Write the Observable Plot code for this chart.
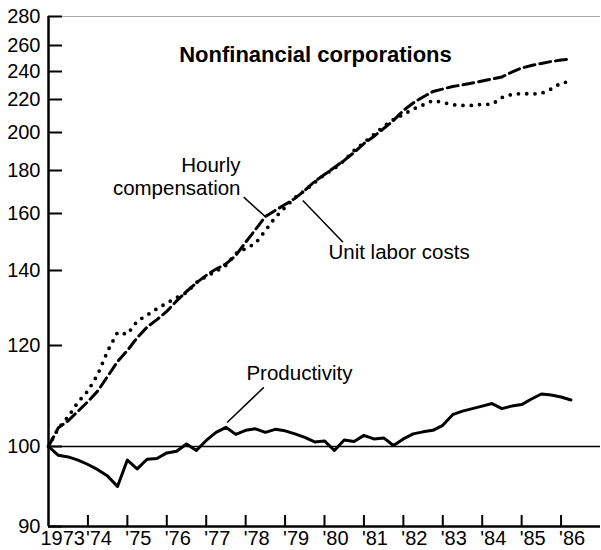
<!DOCTYPE html>
<html>
<head>
<meta charset="utf-8">
<script src="https://cdn.jsdelivr.net/npm/d3@7"></script>
<script src="https://cdn.jsdelivr.net/npm/@observablehq/plot@0.6"></script>
<style>
  html, body { margin: 0; padding: 0; background: #fff; }
</style>
</head>
<body>
<div id="chart"></div>
<script>
// ---- Data (quarterly, 1973 Q1 = 100) ----
const startYear = 1973;

const hourlyCompensation = [100, 103.7, 105.1, 107.0, 108.9, 111.0, 113.9, 116.8, 119.0, 122.1,
  124.9, 126.9, 129.1, 131.9, 134.4, 136.7, 138.7, 140.5, 142.3, 145.3,
  149.9, 154.4, 158.9, 161.4, 164.2, 167.0, 170.7, 174.9, 178.1, 181.6,
  185.3, 189.5, 194.2, 197.9, 202.4, 207.3, 213.3, 217.9, 221.8, 225.7,
  227.5, 229.3, 230.4, 231.8, 233.2, 234.6, 236.1, 239.6, 242.7, 244.6,
  246.2, 247.7, 248.8, 249.6];

const unitLaborCosts = [100, 103.6, 105.9, 108.8, 111.0, 114.3, 118.9, 123.5, 123.0, 126.5,
  128.1, 129.8, 131.3, 132.8, 134.1, 136.8, 138.4, 139.8, 141.8, 146.0,
  147.7, 149.5, 154.0, 158.6, 162.8, 167.4, 170.7, 174.4, 178.1, 181.0,
  185.3, 190.5, 194.7, 198.9, 203.6, 207.9, 210.9, 214.2, 216.7, 219.4,
  218.2, 216.8, 216.4, 216.4, 217.1, 217.1, 221.4, 223.6, 224.3, 223.9,
  224.3, 227.5, 231.8, 232.9];

const productivity = [100, 98.9, 98.7, 98.3, 97.75, 97.1, 96.3, 95.0, 98.3, 97.2,
  98.4, 98.5, 99.2, 99.4, 100.5, 99.5, 101.2, 102.8, 103.8, 102.4,
  103.2, 103.5, 102.8, 103.4, 103.1, 102.5, 101.8, 100.9, 101.1, 99.5,
  101.3, 101.0, 102.2, 101.5, 101.7, 100.2, 101.5, 102.5, 102.9, 103.2,
  104.2, 106.3, 107.0, 107.5, 108.0, 108.5, 107.5, 108.0, 108.3, 109.4,
  110.4, 110.2, 109.8, 109.2];

const yTicks = [90, 100, 120, 140, 160, 180, 200, 220, 240, 260, 280];
const xTickYears = [1973, 1974, 1975, 1976, 1977, 1978, 1979, 1980, 1981, 1982, 1983, 1984, 1985, 1986];
const xTickLabels = ["1973", "'74", "'75", "'76", "'77", "'78", "'79", "'80", "'81", "'82", "'83", "'84", "'85", "'86"];

const title = "Nonfinancial corporations";
const hourlyLabel = {x: 1977.87, y: 177.5, text: "Hourly\ncompensation"};
const ulcLabel = {x: 1980.10, y: 146.2, text: "Unit labor costs"};
const prodLabel = {x: 1978.02, y: 114.4, text: "Productivity"};
const leaderLines = [
  {x1: 1977.95, y1: 167.6, x2: 1978.50, y2: 158.9},
  {x1: 1979.45, y1: 166.0, x2: 1980.47, y2: 149.9},
  {x1: 1978.46, y1: 111.7, x2: 1977.53, y2: 104.75}
];

// ---- Build table ----
const rows = productivity.map((p, i) => ({
  t: startYear + i / 4,
  hc: hourlyCompensation[i],
  ulc: unitLaborCosts[i],
  prod: p
}));

const font = "'Liberation Sans', Arial, Helvetica, sans-serif";

const chart = Plot.plot({
  width: 601,
  height: 550,
  marginLeft: 48,
  marginRight: 1,
  marginTop: 16,
  marginBottom: 24,
  style: {fontFamily: font, fontSize: "20px", color: "#000", background: "#fff"},
  x: {domain: [1973, 1987], axis: null},
  y: {type: "linear", domain: yTicks, range: [526, 446, 345, 270, 213, 170, 132, 99, 71, 45, 16]},
  marks: [
    // frame top (faint) and 100 baseline
    Plot.ruleY([280], {stroke: "#aaa", strokeWidth: 1}),
    Plot.ruleY([100], {stroke: "#000", strokeWidth: 1.5}),
    // inward y ticks
    Plot.tickY(yTicks, {y: d => d, insetRight: 538, stroke: "#000", strokeWidth: 2}),
    // upward x ticks
    Plot.tickX(xTickYears.slice(1), {x: d => d, insetTop: 499, stroke: "#000", strokeWidth: 2}),
    // axis lines
    Plot.ruleX([1973], {stroke: "#000", strokeWidth: 2.5}),
    Plot.ruleY([90], {stroke: "#000", strokeWidth: 2.5}),
    // y tick labels
    Plot.axisY(yTicks, {tickSize: 0, tickPadding: 8, fontSize: 20, label: null, fill: "#000"}),
    // x tick labels
    Plot.text(xTickYears.slice(1), {
      x: d => d, text: (d, i) => xTickLabels[i + 1], frameAnchor: "bottom",
      textAnchor: "start", lineAnchor: "middle", dx: -2, dy: 12.5, fontSize: 20, fill: "#000"
    }),
    Plot.text(xTickYears.slice(0, 1), {
      x: d => d, text: (d, i) => xTickLabels[i], frameAnchor: "bottom",
      textAnchor: "start", lineAnchor: "middle", dx: -8, dy: 12.5, fontSize: 20, fill: "#000"
    }),
    // series
    Plot.line(rows, {x: "t", y: "hc", stroke: "#000", strokeWidth: 3, strokeDasharray: "11,5"}),
    Plot.line(rows, {x: "t", y: "ulc", stroke: "#000", strokeWidth: 3.8, strokeDasharray: "0,8.3", strokeLinecap: "round"}),
    Plot.line(rows, {x: "t", y: "prod", stroke: "#000", strokeWidth: 3, strokeLinejoin: "round"}),
    // leader lines
    Plot.link(leaderLines, {x1: "x1", y1: "y1", x2: "x2", y2: "y2", stroke: "#000", strokeWidth: 1.5}),
    // labels
    Plot.text([hourlyLabel], {x: "x", y: "y", text: "text", textAnchor: "end", lineHeight: 1.12, fontSize: 20.5, fill: "#000"}),
    Plot.text([ulcLabel], {x: "x", y: "y", text: "text", textAnchor: "start", fontSize: 20.5, fill: "#000"}),
    Plot.text([prodLabel], {x: "x", y: "y", text: "text", textAnchor: "start", fontSize: 20.5, fill: "#000"}),
    // title
    Plot.text([title], {frameAnchor: "top", dx: -9, dy: 30, fontSize: 22, fontWeight: "bold", fill: "#000"})
  ]
});

document.getElementById("chart").append(chart);
</script>
</body>
</html>
